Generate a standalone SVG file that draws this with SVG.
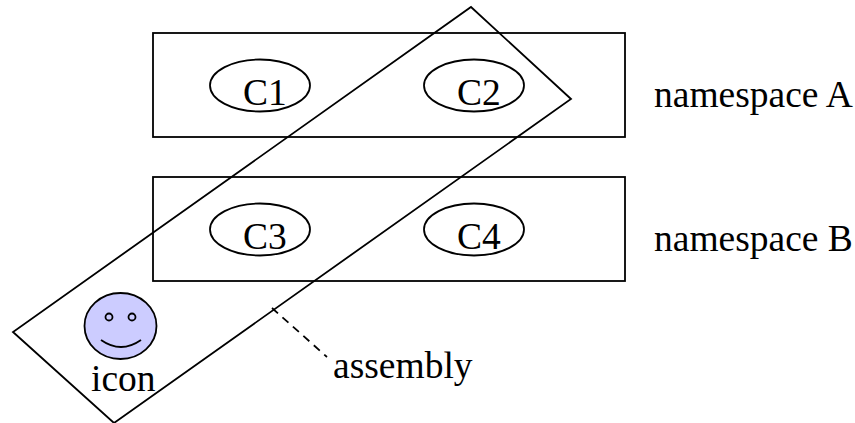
<svg xmlns="http://www.w3.org/2000/svg" width="855" height="423" viewBox="0 0 855 423">
<style>
.s{fill:none;stroke:#000;stroke-width:1.8}
text{font-family:"Liberation Serif","Times New Roman",serif;font-size:37.5px;fill:#000}
</style>
<rect width="855" height="423" fill="#fff"/>
<g id="namespaceA"><rect class="s" x="153" y="33" width="472" height="104"/><text x="654" y="107">namespace A</text></g>
<g id="namespaceB"><rect class="s" x="153" y="177" width="472" height="104"/><text x="654" y="251">namespace B</text></g>
<g id="c1"><ellipse class="s" cx="260" cy="85.5" rx="50" ry="26"/><text x="243" y="105">C1</text></g>
<g id="c2"><ellipse class="s" cx="474" cy="85.5" rx="50" ry="26"/><text x="457" y="105">C2</text></g>
<g id="c3"><ellipse class="s" cx="260" cy="229.5" rx="50" ry="26"/><text x="243" y="249">C3</text></g>
<g id="c4"><ellipse class="s" cx="474" cy="229.5" rx="50" ry="26"/><text x="457" y="249">C4</text></g>
<g id="assembly"><polygon class="s" points="471,7 571,99 114,423 13,332"/><text x="333" y="378">assembly</text></g>
<g id="icon"><ellipse class="s" cx="120.5" cy="326" rx="36" ry="33" style="fill:#ccccff"/><circle class="s" cx="109" cy="317" r="3.5"/><circle class="s" cx="132" cy="317" r="3.5"/><path class="s" d="M101 340Q121 354 141 340"/><text x="91" y="391">icon</text></g>
<g id="connectors"><line x1="272" y1="308" x2="327" y2="357" stroke="#000" stroke-width="1.8" stroke-dasharray="8 6"/></g>
</svg>
